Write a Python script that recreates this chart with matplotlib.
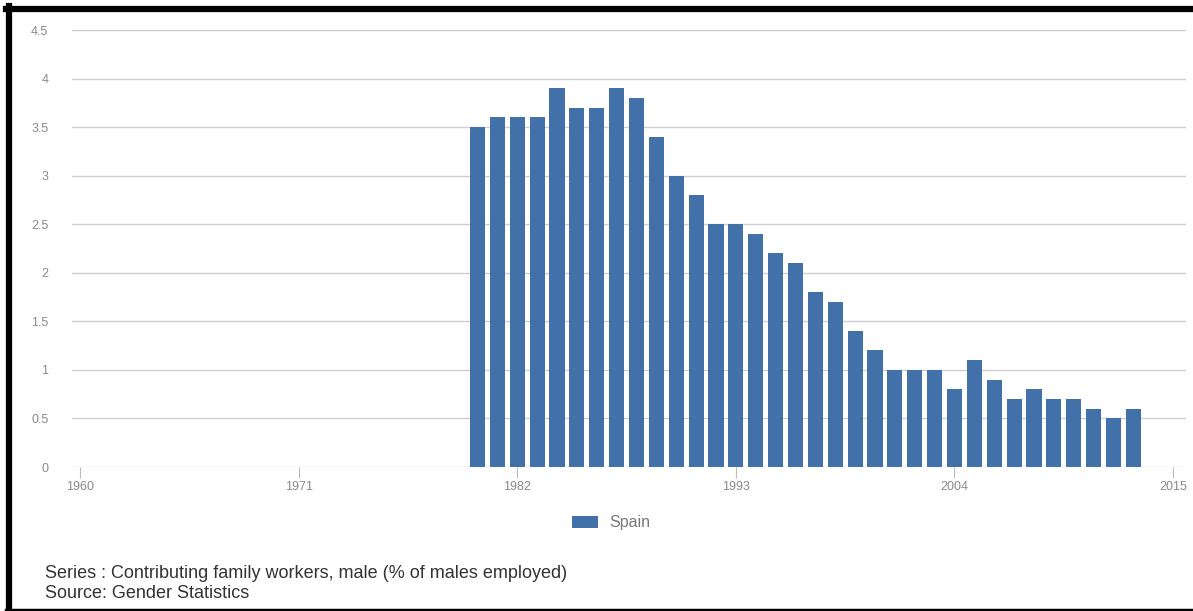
import numpy as np
import matplotlib
matplotlib.use("Agg")
import matplotlib.pyplot as plt
from matplotlib.lines import Line2D
from matplotlib.patches import Patch

plt.rcParams['font.family'] = ['Liberation Sans', 'DejaVu Sans']

# data
years = list(range(1980, 2014))
values = [3.5, 3.6, 3.6, 3.6, 3.9, 3.7, 3.7, 3.9, 3.8, 3.4,
          3.0, 2.8, 2.5, 2.5, 2.4, 2.2, 2.1, 1.8, 1.7, 1.4,
          1.2, 1.0, 1.0, 1.0, 0.8, 1.1, 0.9, 0.7, 0.8, 0.7,
          0.7, 0.6, 0.5, 0.6]
x_ticks = [1960, 1971, 1982, 1993, 2004, 2015]
y_ticks = [0, 0.5, 1, 1.5, 2, 2.5, 3, 3.5, 4, 4.5]
y_labels = ["0", "0.5", "1", "1.5", "2", "2.5", "3", "3.5", "4", "4.5"]
series_name = "Spain"
series_note = "Series : Contributing family workers, male (% of males employed)"
source_note = "Source: Gender Statistics"

W, H = 1193, 611
fig = plt.figure(figsize=(W / 100, H / 100), dpi=100)
fig.patch.set_facecolor("white")

# axes placement in pixels
left, right, top, bottom = 72, 1186, 30, 467
ax = fig.add_axes([left / W, 1 - bottom / H, (right - left) / W, (bottom - top) / H])

bar_color = "#4270a9"
ax.bar(years, values, width=0.76, color=bar_color, zorder=3)

ax.set_xlim(1959.6, 2015.65)
ax.set_ylim(0, 4.5)
ax.set_yticks(y_ticks)
ax.set_yticklabels(y_labels)
ax.set_xticks(x_ticks)
ax.set_xticklabels([str(t) for t in x_ticks])

ax.grid(axis="y", color="#cfcfcf", linewidth=1, zorder=0)
ax.tick_params(axis="y", length=0, pad=17, labelsize=9, labelcolor="#8a8a8a")
ax.tick_params(axis="x", length=8, width=0.8, color="#bbbbbb", pad=2,
               labelsize=9, labelcolor="#8a8a8a")
for s in ax.spines.values():
    s.set_visible(False)

# legend
handles = [Patch(facecolor=bar_color, edgecolor="none", label=series_name)]
fig.legend(handles=handles, loc="center", bbox_to_anchor=(611 / W, 1 - 523 / H),
           frameon=False, fontsize=11.5, labelcolor="#777777",
           handlelength=1.65, handleheight=0.8, handletextpad=0.7)

# notes
fig.text(45 / W, 1 - 573 / H, series_note, fontsize=13, color="#333333", va="center")
fig.text(45 / W, 1 - 594 / H, source_note, fontsize=13, color="#333333", va="center")

# black frame of the screenshot
fig.add_artist(Line2D([9 / W, 9 / W], [1 - 6 / H, 0], transform=fig.transFigure,
                      color="black", linewidth=4.5))
fig.add_artist(Line2D([6 / W, 1], [1 - 9 / H, 1 - 9 / H], transform=fig.transFigure,
                      color="black", linewidth=4.5))
fig.add_artist(Line2D([6 / W, 1], [1.5 / H, 1.5 / H], transform=fig.transFigure,
                      color="black", linewidth=2.5))

fig.savefig("out.png", dpi=100)
